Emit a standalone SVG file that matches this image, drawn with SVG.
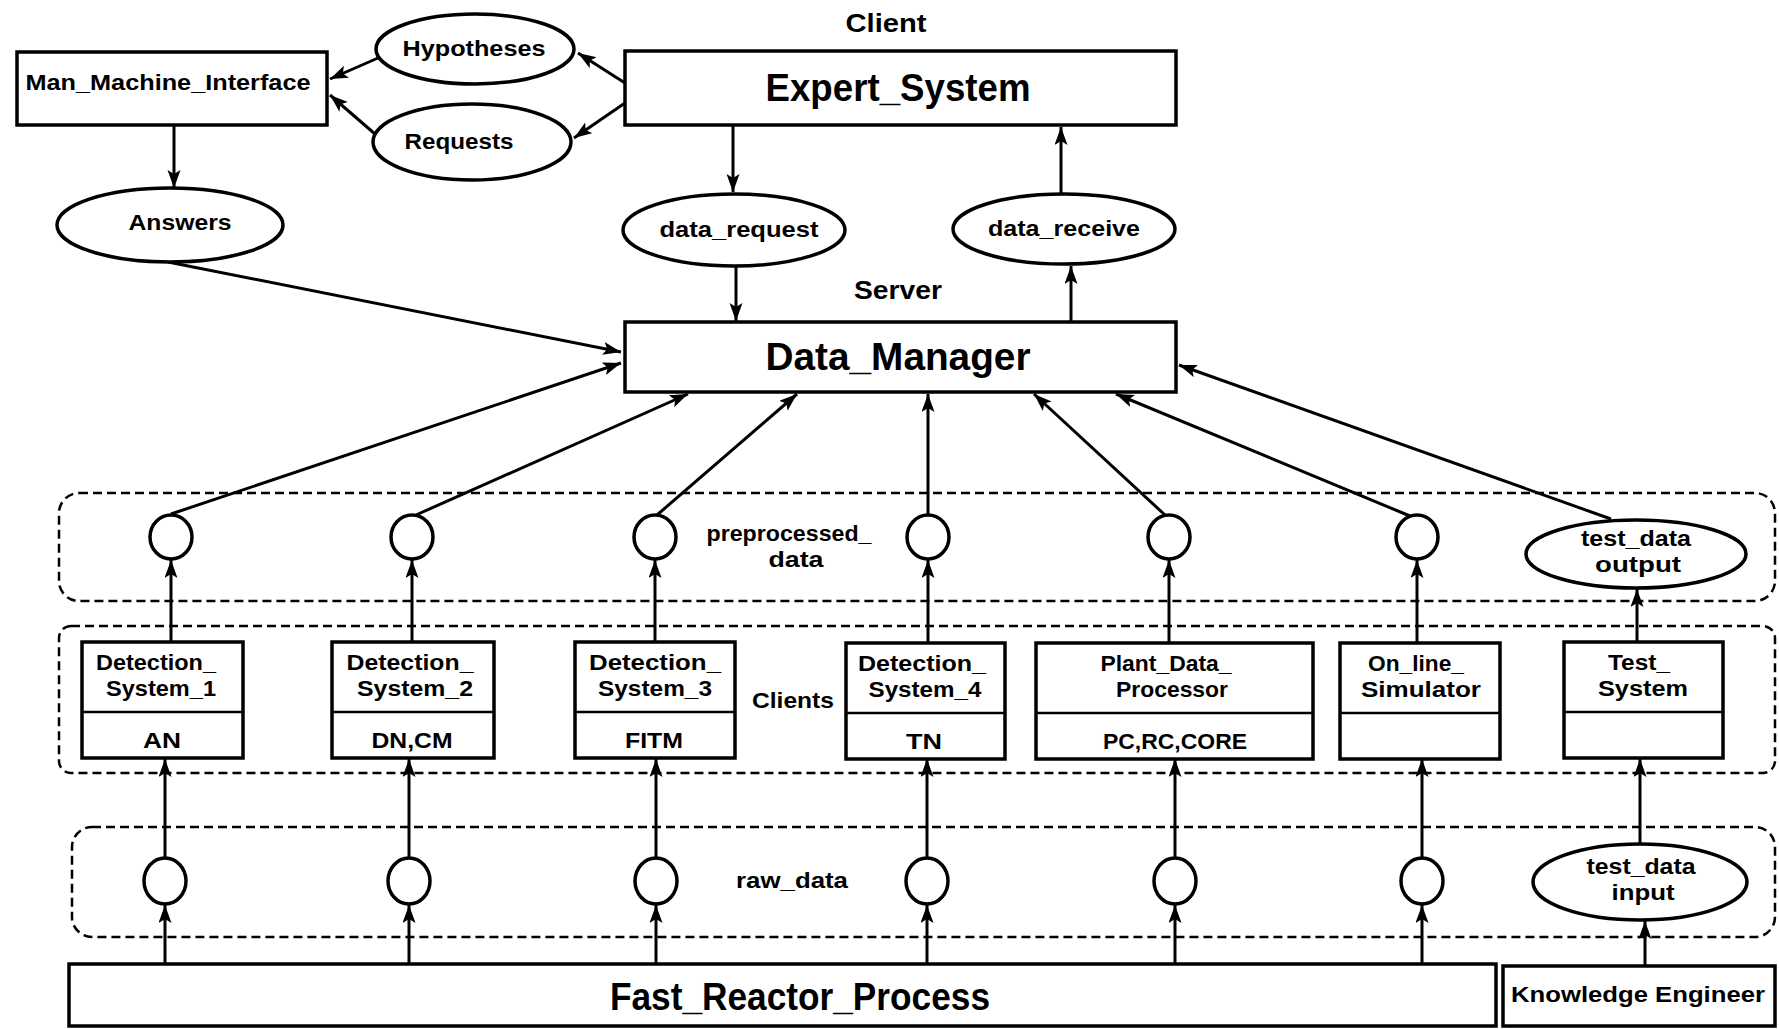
<svg xmlns="http://www.w3.org/2000/svg" width="1779" height="1029" viewBox="0 0 1779 1029">
<defs>
<marker id="ah" markerUnits="userSpaceOnUse" markerWidth="20" markerHeight="14" refX="18" refY="6.5" orient="auto">
<path d="M0,0 L18,6.5 L0,13 L4,6.5 z" fill="#000"/>
</marker>
<style>
text{font-family:"Liberation Sans","Open Sans",sans-serif;font-weight:700;fill:#000;text-anchor:middle}
.box{fill:#fff;stroke:#000;stroke-width:3.5}
.ell{fill:#fff;stroke:#000;stroke-width:3.5}
.band{fill:none;stroke:#000;stroke-width:2.5;stroke-dasharray:9 5}
.div{stroke:#000;stroke-width:2.5}
.con{fill:none;stroke:#000;stroke-width:3;marker-end:url(#ah)}
.big{font-size:38px}
.mid{font-size:25px}
.sm{font-size:22px}
</style>
</defs>
<rect width="1779" height="1029" fill="#fff"/>

<g id="bands">
<rect class="band" x="59" y="493" width="1716" height="108" rx="20"/>
<rect class="band" x="59" y="626" width="1716" height="147" rx="12"/>
<rect class="band" x="72" y="827" width="1703" height="110" rx="20"/>
</g>

<g id="labels">
<text class="mid" x="886" y="32" textLength="81" lengthAdjust="spacingAndGlyphs">Client</text>
<text class="mid" x="898" y="299" textLength="88" lengthAdjust="spacingAndGlyphs">Server</text>
<text class="sm" x="789" y="541" textLength="165" lengthAdjust="spacingAndGlyphs">preprocessed_</text>
<text class="sm" x="796" y="567" textLength="55" lengthAdjust="spacingAndGlyphs">data</text>
<text class="sm" x="793" y="708" textLength="82" lengthAdjust="spacingAndGlyphs">Clients</text>
<text class="sm" x="792" y="888" textLength="112" lengthAdjust="spacingAndGlyphs">raw_data</text>
</g>

<g id="connectors">
<path class="con" d="M625,83 L578,53"/>
<path class="con" d="M625,103 L574,138"/>
<path class="con" d="M378,58 L330,79"/>
<path class="con" d="M375,134 L330,95"/>
<path class="con" d="M174,125 L174,188"/>
<path class="con" d="M168,262 L621,352"/>
<path class="con" d="M171,514 L621,363"/>
<path class="con" d="M416,515 L688,394"/>
<path class="con" d="M657,515 L797,394"/>
<path class="con" d="M928,514 L928,394"/>
<path class="con" d="M1165,515 L1034,394"/>
<path class="con" d="M1410,516 L1116,394"/>
<path class="con" d="M1611,519 L1179,365"/>
<path class="con" d="M733,125 L733,192"/>
<path class="con" d="M736,267 L736,321"/>
<path class="con" d="M1071,322 L1071,266"/>
<path class="con" d="M1061,194 L1061,127"/>
<path class="con" d="M171,642 L171,560"/>
<path class="con" d="M412,642 L412,560"/>
<path class="con" d="M655,642 L655,560"/>
<path class="con" d="M928,642 L928,560"/>
<path class="con" d="M1169,642 L1169,560"/>
<path class="con" d="M1417,642 L1417,560"/>
<path class="con" d="M1637,642 L1637,589"/>
<path class="con" d="M165,858 L165,759"/>
<path class="con" d="M409,858 L409,759"/>
<path class="con" d="M656,858 L656,759"/>
<path class="con" d="M927,858 L927,759"/>
<path class="con" d="M1175,858 L1175,759"/>
<path class="con" d="M1422,858 L1422,759"/>
<path class="con" d="M1640,844 L1640,759"/>
<path class="con" d="M165,964 L165,905"/>
<path class="con" d="M409,964 L409,905"/>
<path class="con" d="M656,964 L656,905"/>
<path class="con" d="M927,964 L927,905"/>
<path class="con" d="M1175,964 L1175,905"/>
<path class="con" d="M1422,964 L1422,905"/>
<path class="con" d="M1645,966 L1645,921"/>
</g>

<g id="expert_system">
<rect class="box" x="625" y="51" width="551" height="74"/>
<text class="big" x="898" y="101" textLength="265" lengthAdjust="spacingAndGlyphs">Expert_System</text>
</g>
<g id="man_machine_interface">
<rect class="box" x="17" y="52" width="310" height="73"/>
<text class="sm" x="168" y="90" textLength="285" lengthAdjust="spacingAndGlyphs">Man_Machine_Interface</text>
</g>
<g id="hypotheses">
<ellipse class="ell" cx="475" cy="49" rx="99" ry="35"/>
<text class="sm" x="474" y="56" textLength="143" lengthAdjust="spacingAndGlyphs">Hypotheses</text>
</g>
<g id="requests">
<ellipse class="ell" cx="472" cy="142" rx="99" ry="38"/>
<text class="sm" x="459" y="149" textLength="109" lengthAdjust="spacingAndGlyphs">Requests</text>
</g>
<g id="answers">
<ellipse class="ell" cx="170" cy="225" rx="113" ry="37"/>
<text class="sm" x="180" y="230" textLength="103" lengthAdjust="spacingAndGlyphs">Answers</text>
</g>
<g id="data_request">
<ellipse class="ell" cx="734" cy="230" rx="111" ry="36"/>
<text class="sm" x="739" y="237" textLength="159" lengthAdjust="spacingAndGlyphs">data_request</text>
</g>
<g id="data_receive">
<ellipse class="ell" cx="1064" cy="229" rx="111" ry="35"/>
<text class="sm" x="1064" y="236" textLength="152" lengthAdjust="spacingAndGlyphs">data_receive</text>
</g>
<g id="data_manager">
<rect class="box" x="625" y="322" width="551" height="70"/>
<text class="big" x="898" y="370" textLength="265" lengthAdjust="spacingAndGlyphs">Data_Manager</text>
</g>

<g id="preprocessed_data">
<ellipse class="ell" cx="171" cy="537" rx="21" ry="22"/>
<ellipse class="ell" cx="412" cy="537" rx="21" ry="22"/>
<ellipse class="ell" cx="655" cy="537" rx="21" ry="22"/>
<ellipse class="ell" cx="928" cy="537" rx="21" ry="22"/>
<ellipse class="ell" cx="1169" cy="537" rx="21" ry="22"/>
<ellipse class="ell" cx="1417" cy="537" rx="21" ry="22"/>
</g>
<g id="test_data_output">
<ellipse class="ell" cx="1636" cy="554" rx="110" ry="34"/>
<text class="sm" x="1636" y="546" textLength="110" lengthAdjust="spacingAndGlyphs">test_data</text>
<text class="sm" x="1638" y="572" textLength="86" lengthAdjust="spacingAndGlyphs">output</text>
</g>

<g id="detection_system_1">
<rect class="box" x="82" y="642" width="161" height="116"/>
<line class="div" x1="82" y1="712" x2="243" y2="712"/>
<text class="sm" x="156" y="670" textLength="120" lengthAdjust="spacingAndGlyphs">Detection_</text>
<text class="sm" x="161" y="696" textLength="110" lengthAdjust="spacingAndGlyphs">System_1</text>
<text class="sm" x="162" y="748" textLength="38" lengthAdjust="spacingAndGlyphs">AN</text>
</g>
<g id="detection_system_2">
<rect class="box" x="332" y="642" width="162" height="116"/>
<line class="div" x1="332" y1="712" x2="494" y2="712"/>
<text class="sm" x="410" y="670" textLength="127" lengthAdjust="spacingAndGlyphs">Detection_</text>
<text class="sm" x="415" y="696" textLength="116" lengthAdjust="spacingAndGlyphs">System_2</text>
<text class="sm" x="412" y="748" textLength="81" lengthAdjust="spacingAndGlyphs">DN,CM</text>
</g>
<g id="detection_system_3">
<rect class="box" x="575" y="642" width="160" height="116"/>
<line class="div" x1="575" y1="712" x2="735" y2="712"/>
<text class="sm" x="655" y="670" textLength="132" lengthAdjust="spacingAndGlyphs">Detection_</text>
<text class="sm" x="655" y="696" textLength="114" lengthAdjust="spacingAndGlyphs">System_3</text>
<text class="sm" x="654" y="748" textLength="58" lengthAdjust="spacingAndGlyphs">FITM</text>
</g>
<g id="detection_system_4">
<rect class="box" x="846" y="643" width="159" height="116"/>
<line class="div" x1="846" y1="713" x2="1005" y2="713"/>
<text class="sm" x="922" y="671" textLength="128" lengthAdjust="spacingAndGlyphs">Detection_</text>
<text class="sm" x="925" y="697" textLength="113" lengthAdjust="spacingAndGlyphs">System_4</text>
<text class="sm" x="924" y="749" textLength="36" lengthAdjust="spacingAndGlyphs">TN</text>
</g>
<g id="plant_data_processor">
<rect class="box" x="1036" y="643" width="277" height="116"/>
<line class="div" x1="1036" y1="713" x2="1313" y2="713"/>
<text class="sm" x="1166" y="671" textLength="131" lengthAdjust="spacingAndGlyphs">Plant_Data_</text>
<text class="sm" x="1172" y="697" textLength="112" lengthAdjust="spacingAndGlyphs">Processor</text>
<text class="sm" x="1175" y="749" textLength="144" lengthAdjust="spacingAndGlyphs">PC,RC,CORE</text>
</g>
<g id="on_line_simulator">
<rect class="box" x="1340" y="643" width="160" height="116"/>
<line class="div" x1="1340" y1="713" x2="1500" y2="713"/>
<text class="sm" x="1416" y="671" textLength="96" lengthAdjust="spacingAndGlyphs">On_line_</text>
<text class="sm" x="1421" y="697" textLength="120" lengthAdjust="spacingAndGlyphs">Simulator</text>
</g>
<g id="test_system">
<rect class="box" x="1564" y="642" width="159" height="116"/>
<line class="div" x1="1564" y1="712" x2="1723" y2="712"/>
<text class="sm" x="1639" y="670" textLength="62" lengthAdjust="spacingAndGlyphs">Test_</text>
<text class="sm" x="1643" y="696" textLength="90" lengthAdjust="spacingAndGlyphs">System</text>
</g>

<g id="raw_data">
<ellipse class="ell" cx="165" cy="881" rx="21" ry="23"/>
<ellipse class="ell" cx="409" cy="881" rx="21" ry="23"/>
<ellipse class="ell" cx="656" cy="881" rx="21" ry="23"/>
<ellipse class="ell" cx="927" cy="881" rx="21" ry="23"/>
<ellipse class="ell" cx="1175" cy="881" rx="21" ry="23"/>
<ellipse class="ell" cx="1422" cy="881" rx="21" ry="23"/>
</g>
<g id="test_data_input">
<ellipse class="ell" cx="1640" cy="882" rx="107" ry="38"/>
<text class="sm" x="1641" y="874" textLength="109" lengthAdjust="spacingAndGlyphs">test_data</text>
<text class="sm" x="1643" y="900" textLength="63" lengthAdjust="spacingAndGlyphs">input</text>
</g>

<g id="fast_reactor_process">
<rect class="box" x="69" y="964" width="1427" height="62"/>
<text class="big" x="800" y="1010" textLength="380" lengthAdjust="spacingAndGlyphs">Fast_Reactor_Process</text>
</g>
<g id="knowledge_engineer">
<rect class="box" x="1503" y="966" width="272" height="60"/>
<text class="sm" x="1638" y="1002" textLength="254" lengthAdjust="spacingAndGlyphs">Knowledge Engineer</text>
</g>
</svg>
